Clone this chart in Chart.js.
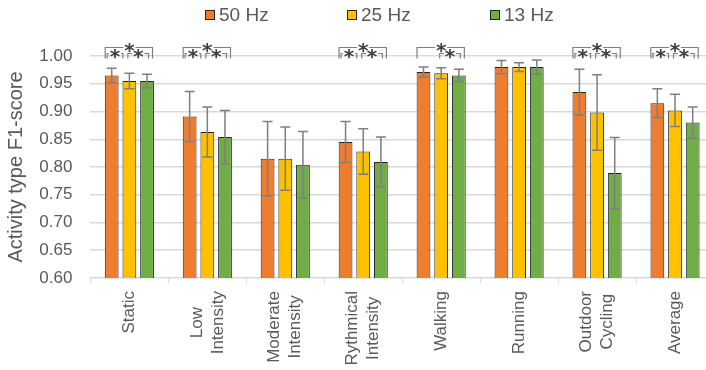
<!DOCTYPE html>
<html>
<head>
<meta charset="utf-8">
<script src="https://cdn.jsdelivr.net/npm/chart.js@4"></script>
<style>
  html, body { margin: 0; padding: 0; background: #fff; overflow: hidden; }
  #wrap { position: relative; width: 720px; height: 370px; }
  #legend { position: absolute; top: 0; left: 0; width: 720px; height: 30px;
            font-family: "Liberation Sans", Arial, sans-serif; font-size: 19px; color: #595959; }
  .item { position: absolute; top: 4px; display: flex; align-items: center; line-height: 22px; }
  .box { width: 8px; height: 8px; border: 1px solid #262626; margin-right: 4px; }
</style>
</head>
<body>
<div id="wrap">
  <canvas id="myChart" width="720" height="370"></canvas>
  <div id="legend"></div>
</div>
<script>
const categories = ['Static', ['Low', 'Intensity'], ['Moderate', 'Intensity'], ['Rythmical', 'Intensity'],
                    'Walking', 'Running', ['Outdoor', 'Cycling'], 'Average'];
const seriesNames = ['50 Hz', '25 Hz', '13 Hz'];
const seriesColors = ['#ED7D31', '#FFC000', '#70AD47'];

const hz50 = [0.965, 0.891, 0.815, 0.845, 0.971, 0.980, 0.935, 0.915];
const hz25 = [0.955, 0.863, 0.815, 0.828, 0.969, 0.980, 0.898, 0.902];
const hz13 = [0.955, 0.854, 0.804, 0.809, 0.965, 0.980, 0.789, 0.880];

const err50 = [0.013, 0.045, 0.067, 0.037, 0.009, 0.012, 0.041, 0.026];
const err25 = [0.014, 0.045, 0.057, 0.041, 0.010, 0.008, 0.068, 0.029];
const err13 = [0.012, 0.048, 0.060, 0.045, 0.011, 0.013, 0.064, 0.028];

// significance brackets per category: pairs of series indexes
const sigPairs = [
  [[0, 2], [0, 1], [1, 2]],
  [[0, 2], [0, 1], [1, 2]],
  [],
  [[0, 2], [0, 1], [1, 2]],
  [[0, 2], [1, 2]],
  [],
  [[0, 2], [0, 1], [1, 2]],
  [[0, 2], [0, 1], [1, 2]]
];

const errors = [err50, err25, err13];
const textColor = '#595959';
const fontFamily = '"Liberation Sans", Arial, sans-serif';

// html legend
const legendEl = document.getElementById('legend');
const legendX = [205, 347, 490];
seriesNames.forEach(function(name, i) {
  const item = document.createElement('div');
  item.className = 'item';
  item.style.left = legendX[i] + 'px';
  item.innerHTML = '<span class="box" style="background:' + seriesColors[i] + '"></span><span>' + name + '</span>';
  legendEl.appendChild(item);
});

function drawStar(ctx, x, cy) {
  ctx.font = 'bold 20px "DejaVu Sans"';
  const m = ctx.measureText('*');
  const base = cy + (m.actualBoundingBoxAscent - m.actualBoundingBoxDescent) / 2;
  ctx.fillText('*', x, base);
}

const extras = {
  id: 'extras',
  afterDatasetsDraw(chart) {
    const ctx = chart.ctx;
    const y = chart.scales.y;
    ctx.save();
    // error bars
    ctx.strokeStyle = '#7f7f7f';
    ctx.lineWidth = 1.5;
    chart.data.datasets.forEach(function(ds, di) {
      const meta = chart.getDatasetMeta(di);
      meta.data.forEach(function(bar, i) {
        const v = ds.data[i], e = errors[di][i];
        const yt = y.getPixelForValue(v + e), yb = y.getPixelForValue(v - e);
        ctx.beginPath();
        ctx.moveTo(bar.x, yt); ctx.lineTo(bar.x, yb);
        ctx.moveTo(bar.x - 5, yt); ctx.lineTo(bar.x + 5, yt);
        ctx.moveTo(bar.x - 5, yb); ctx.lineTo(bar.x + 5, yb);
        ctx.stroke();
      });
    });
    // significance brackets
    const top = y.getPixelForValue(1.0);
    ctx.strokeStyle = '#7f7f7f';
    ctx.fillStyle = '#404040';
    ctx.lineWidth = 1.2;
    ctx.textAlign = 'center';
    sigPairs.forEach(function(pairs, ci) {
      const xs = [0, 1, 2].map(d => chart.getDatasetMeta(d).data[ci].x);
      pairs.forEach(function(p) {
        let x0, x1, ly;
        if (p[0] === 0 && p[1] === 2) {
          x0 = xs[0] - 7; x1 = xs[2] + 6; ly = top - 8.5;
        } else if (p[0] === 0) {
          x0 = xs[0] - 5; x1 = xs[1] - 6; ly = top - 2.5;
        } else {
          x0 = xs[1] - 2; x1 = xs[2] + 2; ly = top - 2.5;
        }
        const cx = p[0] === 0 && p[1] === 2 ? xs[1] : (x0 + x1) / 2;
        const gap = 6;
        ctx.beginPath();
        ctx.moveTo(x0 + 0.5, top + 2.5); ctx.lineTo(x0 + 0.5, ly); ctx.lineTo(cx - gap, ly);
        ctx.moveTo(cx + gap, ly); ctx.lineTo(x1 - 0.5, ly); ctx.lineTo(x1 - 0.5, top + 2.5);
        ctx.stroke();
        drawStar(ctx, cx, ly);
      });
    });
    // category labels, rotated, lines centred on the tick
    const xs = chart.scales.x;
    const labelTop = xs.top + 13;
    ctx.fillStyle = textColor;
    ctx.font = '17px ' + fontFamily;
    ctx.textAlign = 'center';
    ctx.textBaseline = 'middle';
    categories.forEach(function(lab, i) {
      const lines = Array.isArray(lab) ? lab : [lab];
      const maxW = Math.max.apply(null, lines.map(l => ctx.measureText(l).width));
      const cy = labelTop + maxW / 2;
      const tx = xs.getPixelForValue(i);
      lines.forEach(function(line, k) {
        ctx.save();
        ctx.translate(tx + (k - (lines.length - 1) / 2) * 21, cy);
        ctx.rotate(-Math.PI / 2);
        ctx.fillText(line, 0, 0);
        ctx.restore();
      });
    });
    ctx.restore();
  }
};

const ctx = document.getElementById('myChart');
new Chart(ctx, {
  type: 'bar',
  data: {
    labels: categories,
    datasets: [hz50, hz25, hz13].map(function(d, i) {
      return {
        label: seriesNames[i],
        data: d,
        backgroundColor: seriesColors[i],
        borderColor: '#262626',
        borderWidth: 1,
        categoryPercentage: 0.68,
        barPercentage: 0.78
      };
    })
  },
  options: {
    responsive: false,
    animation: false,
    layout: { padding: { top: 56, right: 6, bottom: 87, left: 4 } },
    plugins: {
      legend: { display: false },
      tooltip: { enabled: false }
    },
    scales: {
      x: {
        grid: { offset: true, drawOnChartArea: false, drawTicks: true, tickLength: 5, color: '#d9d9d9' },
        border: { display: false },
        ticks: { display: false }
      },
      y: {
        min: 0.6, max: 1.0,
        afterFit: function(scale) { scale.width = 86.4; },
        grid: { color: '#d9d9d9', lineWidth: 1.5, drawTicks: false },
        border: { display: false },
        ticks: {
          stepSize: 0.05, padding: 18, color: textColor,
          font: { family: fontFamily, size: 17 },
          callback: function(v) { return v.toFixed(2); }
        },
        title: {
          display: true, text: 'Activity type F1-score', color: textColor,
          font: { family: fontFamily, size: 20 }, padding: { top: 0, bottom: 0 }
        }
      }
    }
  },
  plugins: [extras]
});
</script>
</body>
</html>
